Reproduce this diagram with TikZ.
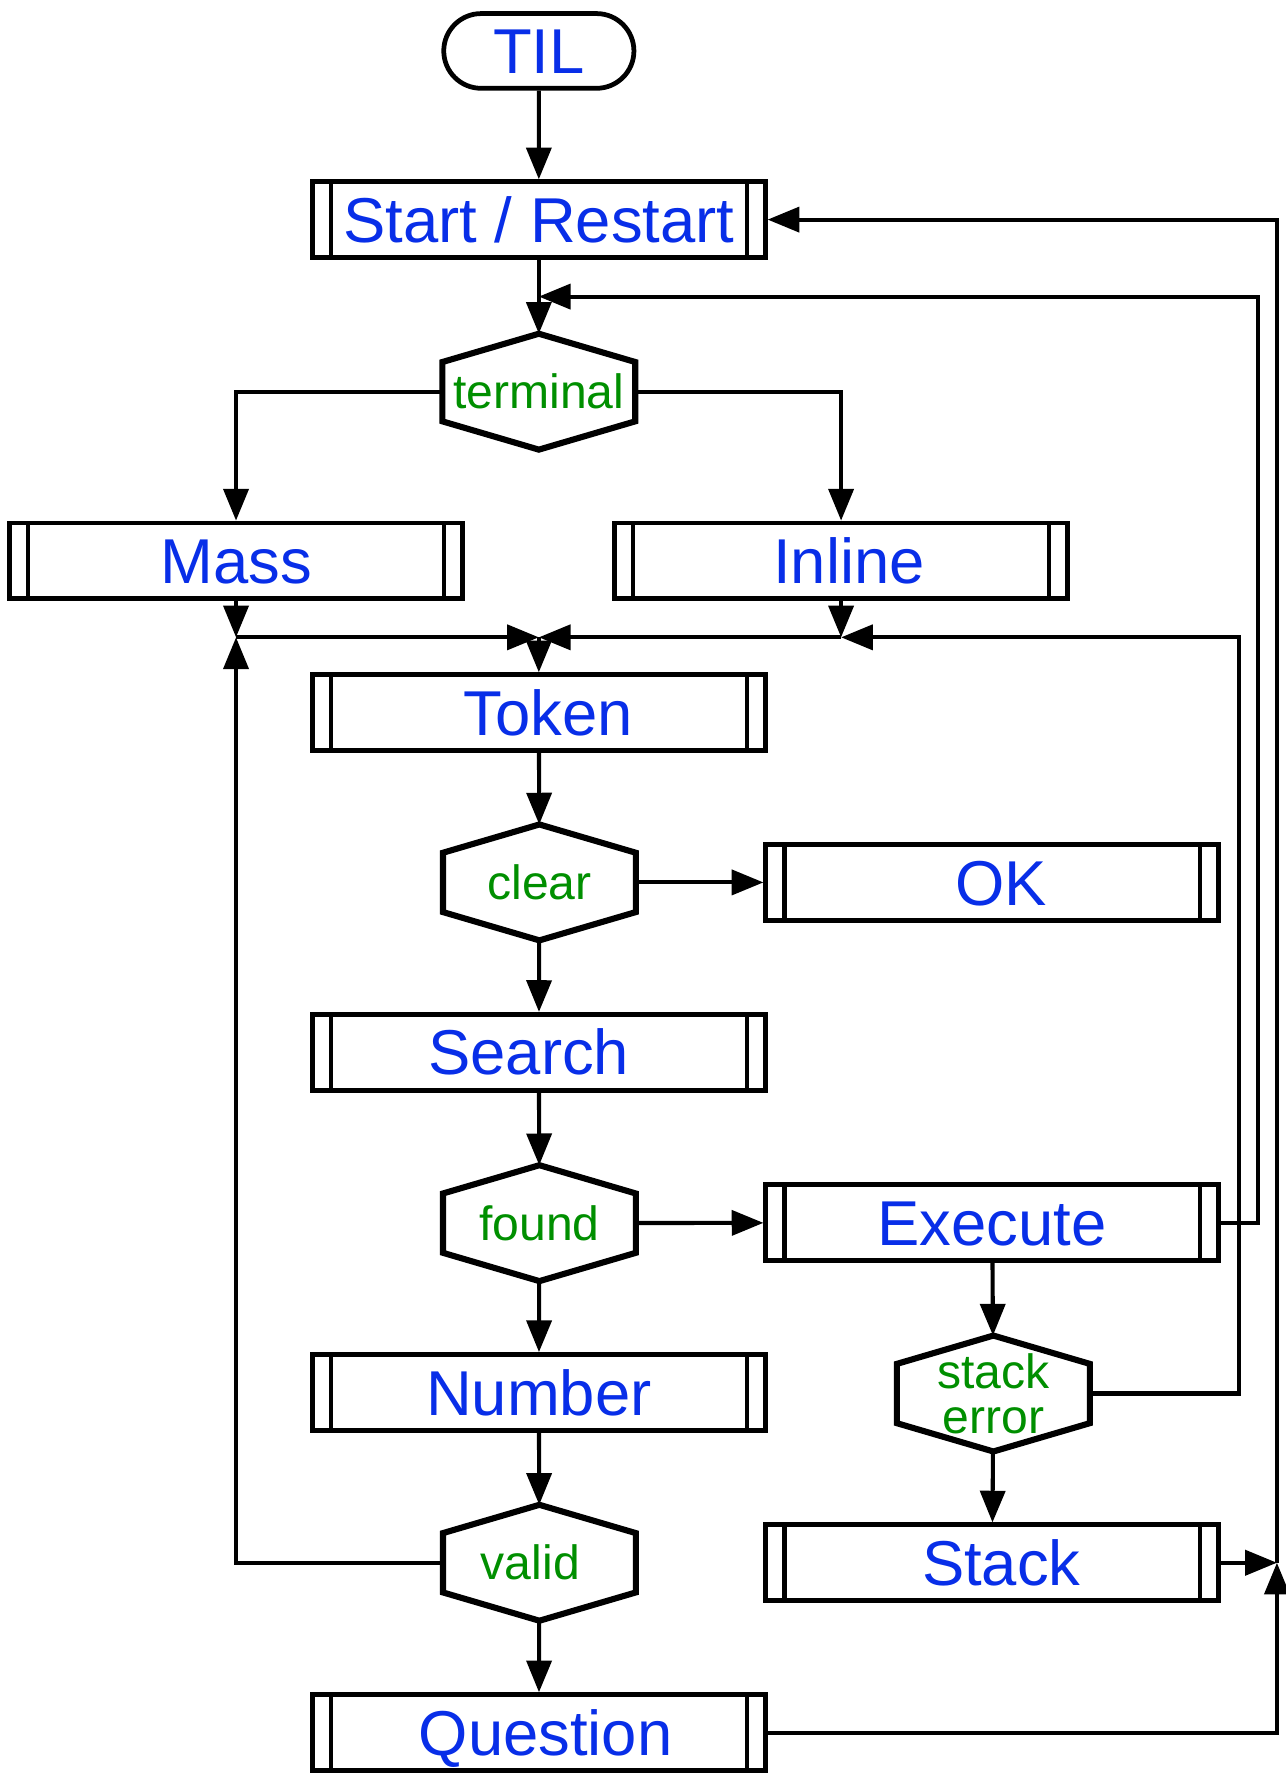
\documentclass[tikz,border=0pt]{standalone}
\usepackage{fontspec}
\setmainfont{Liberation Sans}
\usetikzlibrary{arrows.meta,shapes.misc}
\definecolor{lblue}{RGB}{8,46,232}
\definecolor{lgreen}{RGB}{0,143,0}

% hexagonal outline around a decision node
\newcommand\drawdecision[1]{%
  \draw[hexline] (#1.north) -- ([yshift=-25pt]#1.north east) -- ([yshift=25pt]#1.south east)
    -- (#1.south) -- ([yshift=25pt]#1.south west) -- ([yshift=-25pt]#1.north west) -- cycle;}

\begin{document}
\begin{tikzpicture}[x=1pt,y=-1pt,
  conn/.style={line width=3.6pt},
  arr/.style={conn,-{Triangle[length=28pt,width=22pt]}},
  procbox/.style={draw,rectangle,line width=4.2pt,minimum width=400pt,minimum height=67pt,
    inner sep=0pt,font=\fontsize{56}{60}\selectfont,text=lblue,text height=40pt,text depth=0pt,
    path picture={\draw[line width=3.6pt]
      ([xshift=16.5pt]path picture bounding box.north west) -- ([xshift=16.5pt]path picture bounding box.south west)
      ([xshift=-16.5pt]path picture bounding box.north east) -- ([xshift=-16.5pt]path picture bounding box.south east);}},
  decision/.style={rectangle,minimum width=170pt,minimum height=102pt,inner sep=0pt,
    font=\fontsize{42.5}{40}\selectfont,text=lgreen,align=center},
  hexline/.style={line width=5.4pt,line join=miter},
  terminator/.style={draw,rounded rectangle,line width=4.2pt,minimum width=168pt,minimum height=66pt,
    inner sep=0pt,font=\fontsize{56}{60}\selectfont,text=lblue,text height=40pt,text depth=0pt}
]
\fill[white] (0,0) rectangle (1136,1568);
\useasboundingbox (0,0) rectangle (1136,1568);

% nodes
\node[terminator] (til) at (476,45) {TIL};
\node[procbox] (start) at (476,194) {Start / Restart};
\node[decision] (term) at (476,346) {terminal};
\node[procbox] (mass) at (208.5,495.5) {Mass};
\node[procbox] (inline) at (743,495.5) {\hspace*{14pt}Inline};
\node[procbox] (token) at (476,629.5) {\hspace*{16pt}Token};
\node[decision] (clear) at (476.5,779.5) {clear};
\node[procbox] (ok) at (876.5,779.5) {\hspace*{16pt}OK};
\node[procbox] (search) at (476,929.5) {Search\hspace*{18pt}};
\node[decision] (found) at (476.5,1080.5) {found};
\node[procbox] (exec) at (876.5,1080) {Execute};
\node[decision] (stackerr) at (877.5,1231) {stack\\error};
\node[procbox] (number) at (476,1230) {Number};
\node[decision] (valid) at (476.5,1380.5) {valid\hspace*{16pt}};
\node[procbox] (stack) at (876.5,1380.5) {\hspace*{16pt}Stack};
\node[procbox] (question) at (476,1530.5) {\hspace*{12pt}Question};

\drawdecision{term}
\drawdecision{clear}
\drawdecision{found}
\drawdecision{stackerr}
\drawdecision{valid}

% junction points
\coordinate (jTerm) at (476,262);
\coordinate (jMass) at (208.5,563);
\coordinate (jTok) at (476,563);
\coordinate (jInl) at (743,563);
\coordinate (jRet) at (1128,1380.5);

% connectors
\draw[arr] (til) -- (start);
\draw[arr] (start) -- (term);
\draw[arr] (exec.east) -- ++(33,0) |- (jTerm);
\draw[arr] (term.west) -| (mass.north);
\draw[arr] (term.east) -| (inline.north);
\draw[arr] (mass) -- (jMass);
\draw[arr] (inline) -- (jInl);
\draw[arr] (jMass) -- (jTok);
\draw[arr] (jInl) -- (jTok);
\draw[arr] (jTok) -- (token);
\draw[arr] (stackerr.east) -- ++(132,0) |- (jInl);
\draw[arr] (token) -- (clear);
\draw[arr] (clear) -- (ok);
\draw[arr] (clear) -- (search);
\draw[arr] (search) -- (found);
\draw[arr] (found) -- (exec);
\draw[arr] (found) -- (number);
\draw[arr] (exec) -- (stackerr);
\draw[arr] (stackerr) -- (stack);
\draw[arr] (number) -- (valid);
\draw[arr] (valid) -- (question);
\draw[arr] (valid.west) -| (jMass);
\draw[arr] (stack) -- (jRet);
\draw[arr] (question.east) -| (jRet);
\draw[arr] (jRet) |- (start.east);
\end{tikzpicture}
\end{document}
